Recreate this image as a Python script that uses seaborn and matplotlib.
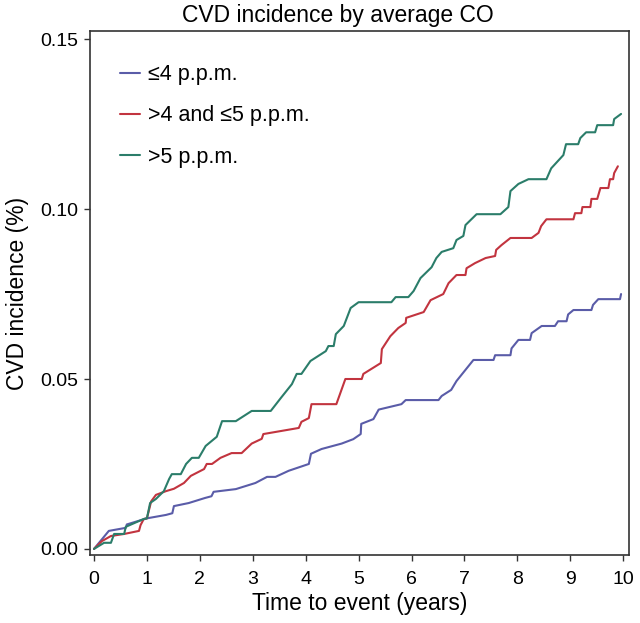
import numpy as np
import pandas as pd
import seaborn as sns
import matplotlib
matplotlib.use("Agg")
import matplotlib.pyplot as plt

# Kaplan-Meier style cumulative incidence
groups = ['≤4 p.p.m.', '>4 and ≤5 p.p.m.', '>5 p.p.m.']
colors = ['#5a5ca8', '#c2343f', '#2b7d6a']

t_low = [0, 0.28, 0.6, 0.62, 1.0, 1.36, 1.48, 1.51, 1.79, 2.1, 2.22, 2.26, 2.68, 3.05, 3.27,
         3.43, 3.68, 4.06, 4.1, 4.3, 4.68, 4.9, 5.04, 5.05, 5.28, 5.38, 5.81, 5.89, 6.51,
         6.57, 6.75, 6.85, 7.17, 7.55, 7.58, 7.87, 7.89, 8.02, 8.24, 8.27, 8.46, 8.71,
         8.77, 8.93, 8.96, 9.06, 9.4, 9.43, 9.53, 9.94, 9.96]
inc_low = [0, 0.0053, 0.0062, 0.0072, 0.009, 0.010, 0.0105, 0.0126, 0.0135, 0.015, 0.0155,
           0.0168, 0.0176, 0.0194, 0.0212, 0.0212, 0.023, 0.025, 0.028, 0.0294, 0.031,
           0.0323, 0.0338, 0.0368, 0.0382, 0.041, 0.0426, 0.0438, 0.0438, 0.045, 0.0468,
           0.0494, 0.0556, 0.0556, 0.057, 0.057, 0.059, 0.0615, 0.0615, 0.0635, 0.0656,
           0.0656, 0.067, 0.067, 0.069, 0.0703, 0.0703, 0.0718, 0.0735, 0.0735, 0.075]

t_mid = [0, 0.15, 0.32, 0.57, 0.85, 0.88, 0.94, 1.0, 1.08, 1.17, 1.36, 1.51, 1.7, 1.83, 2.08,
         2.13, 2.23, 2.39, 2.6, 2.79, 2.98, 3.17, 3.2, 3.87, 3.92, 4.06, 4.11, 4.58, 4.75,
         5.06, 5.09, 5.42, 5.44, 5.6, 5.75, 5.89, 5.9, 6.23, 6.36, 6.6, 6.7, 6.85, 7.02,
         7.04, 7.2, 7.4, 7.58, 7.6, 7.7, 7.87, 8.27, 8.4, 8.45, 8.55, 9.06, 9.09, 9.21,
         9.23, 9.38, 9.4, 9.51, 9.57, 9.72, 9.75, 9.81, 9.83, 9.9]
inc_mid = [0, 0.0023, 0.0038, 0.0044, 0.0053, 0.007, 0.0088, 0.009, 0.014, 0.0159, 0.017,
           0.0177, 0.0194, 0.0215, 0.0235, 0.025, 0.025, 0.0268, 0.0282, 0.0282, 0.031,
           0.0324, 0.0338, 0.0356, 0.0374, 0.0385, 0.0426, 0.0426, 0.05, 0.05, 0.0515,
           0.0547, 0.0588, 0.0626, 0.065, 0.0665, 0.068, 0.0697, 0.0732, 0.075, 0.0782,
           0.0806, 0.0806, 0.0826, 0.0841, 0.0856, 0.0862, 0.088, 0.0894, 0.0915, 0.0915,
           0.093, 0.095, 0.097, 0.097, 0.0988, 0.0988, 0.1006, 0.1006, 0.103, 0.103,
           0.1062, 0.1062, 0.1088, 0.1088, 0.1106, 0.1126]

t_high = [0, 0.19, 0.32, 0.38, 0.57, 0.6, 0.85, 0.94, 1.0, 1.06, 1.17, 1.32, 1.42, 1.47,
          1.64, 1.74, 1.85, 1.98, 2.11, 2.32, 2.42, 2.68, 2.98, 3.34, 3.53, 3.74, 3.83,
          3.92, 4.09, 4.38, 4.43, 4.53, 4.57, 4.72, 4.85, 5.0, 5.62, 5.7, 5.94, 6.04, 6.17,
          6.38, 6.47, 6.57, 6.79, 6.85, 6.98, 7.02, 7.23, 7.68, 7.83, 7.87, 8.02, 8.21,
          8.55, 8.64, 8.87, 8.92, 9.15, 9.19, 9.3, 9.47, 9.51, 9.81, 9.83, 9.96]
inc_high = [0, 0.0018, 0.0018, 0.0044, 0.0044, 0.0065, 0.0082, 0.0088, 0.009, 0.0135,
            0.0147, 0.017, 0.0206, 0.022, 0.022, 0.025, 0.0268, 0.0268, 0.0303, 0.033,
            0.0376, 0.0376, 0.0406, 0.0406, 0.0444, 0.0485, 0.0515, 0.0515, 0.0553, 0.0582,
            0.0597, 0.0597, 0.0632, 0.0656, 0.0709, 0.0726, 0.0726, 0.0741, 0.0741, 0.0759,
            0.0797, 0.0829, 0.0856, 0.0874, 0.0885, 0.0909, 0.0921, 0.0953, 0.0985, 0.0985,
            0.1006, 0.1053, 0.1074, 0.1088, 0.1088, 0.112, 0.1159, 0.1191, 0.1191, 0.1209,
            0.1226, 0.1226, 0.1247, 0.1247, 0.1265, 0.128]

x_ticks = list(range(0, 11))
y_ticks = [0.0, 0.05, 0.10, 0.15]

sns.set_style("ticks", {'text.color': 'black', 'axes.labelcolor': 'black',
                        'xtick.color': '#333333', 'ytick.color': '#333333'})
plt.rcParams['font.family'] = ['Liberation Sans', 'DejaVu Sans']

df = pd.concat([
    pd.DataFrame({'time': t_low, 'inc': inc_low, 'group': groups[0]}),
    pd.DataFrame({'time': t_mid, 'inc': inc_mid, 'group': groups[1]}),
    pd.DataFrame({'time': t_high, 'inc': inc_high, 'group': groups[2]}),
], ignore_index=True)

fig = plt.figure(figsize=(6.4, 6.23), dpi=100)
ax = fig.add_axes([0.1406, 0.1091, 0.8422, 0.8411])

sns.lineplot(data=df, x='time', y='inc', hue='group', hue_order=groups,
             palette=colors, sort=False, estimator=None, linewidth=1.5, ax=ax)

ax.set_xlim(-0.076, 10.11)
ax.set_ylim(-0.0018, 0.1524)
ax.set_xticks(x_ticks)
ax.set_yticks(y_ticks)
ax.set_yticklabels(["{:.2f}".format(v) for v in y_ticks])
ax.tick_params(axis='both', direction='out', length=4.5, width=1.0,
               labelsize=14, labelcolor='black')
ax.tick_params(axis='x', pad=7)
ax.tick_params(axis='y', pad=4)
for s in ax.spines.values():
    s.set_color('#333333')
    s.set_linewidth(1.2)

ax.set_xlabel('Time to event (years)', fontsize=16.5, labelpad=3)
ax.set_ylabel('CVD incidence (%)', fontsize=16.5, labelpad=8)
fig.suptitle('CVD incidence by average CO', fontsize=16.5, x=0.528, y=0.975, va='center')

leg = ax.legend(loc='upper left', bbox_to_anchor=(0.056, 0.937), frameon=False,
                fontsize=15.5, handlelength=0.9, handletextpad=0.4, labelspacing=0.95,
                borderpad=0, borderaxespad=0)
for line in leg.get_lines():
    line.set_linewidth(1.5)

fig.savefig('out.png', dpi=100)
